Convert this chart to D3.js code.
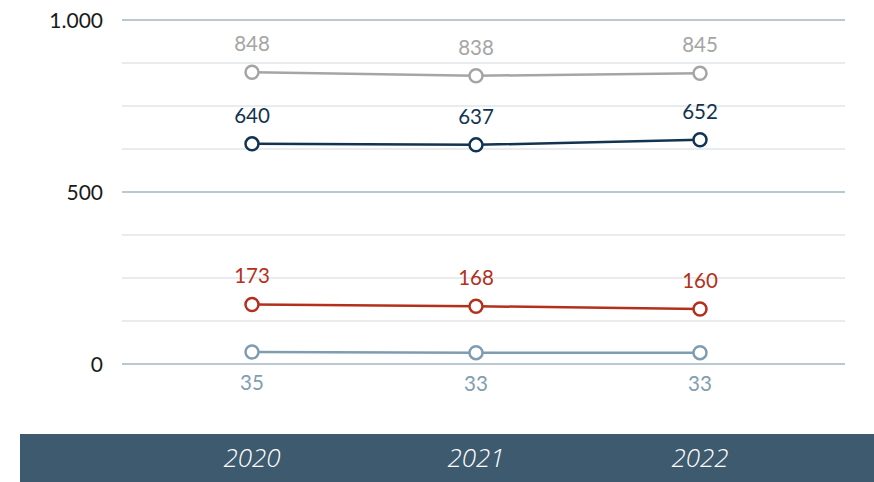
<!DOCTYPE html>
<html>
<head>
<meta charset="utf-8">
<script src="https://cdn.jsdelivr.net/npm/d3@7"></script>
<style>
  html, body { margin: 0; padding: 0; background: #fff; }
  svg { display: block; }
</style>
</head>
<body>
<svg id="chart" width="874" height="482"></svg>
<script>
// Years on the x axis
const years = ["2020", "2021", "2022"];

// One array per series
const seriesGrey = [848, 838, 845];
const seriesNavy = [640, 637, 652];
const seriesRed = [173, 168, 160];
const seriesBlue = [35, 33, 33];

// Y axis ticks
const majorTicks = [0, 500, 1000];
const tickLabels = ["0", "500", "1.000"];
const gridStep = 125;

const series = [
  { values: seriesGrey, color: "#a5a5a5", labelPos: "above" },
  { values: seriesNavy, color: "#123451", labelPos: "above" },
  { values: seriesRed,  color: "#b5301c", labelPos: "above" },
  { values: seriesBlue, color: "#7f9db0", labelPos: "below" }
];

const svg = d3.select("#chart");
const plotLeft = 122, plotRight = 845;
const textFont = "Lato, 'Open Sans', sans-serif";

const x = d3.scalePoint().domain(years).range([252, 700]);
const y = d3.scaleLinear().domain([0, 1000]).range([364, 20]);

// Gridlines: light minor lines every 125, bluish major lines every 500
const gridVals = d3.range(0, 1000 + 1, gridStep);
svg.append("g").selectAll("line")
  .data(gridVals.filter(v => !majorTicks.includes(v)))
  .join("line")
  .attr("x1", plotLeft).attr("x2", plotRight)
  .attr("y1", d => y(d)).attr("y2", d => y(d))
  .attr("stroke", "#d3d9de").attr("stroke-width", 1.2);

svg.append("g").selectAll("line")
  .data(majorTicks)
  .join("line")
  .attr("x1", plotLeft).attr("x2", plotRight)
  .attr("y1", d => y(d)).attr("y2", d => y(d))
  .attr("stroke", "#a3b6c4").attr("stroke-width", 1.3);

// Y tick labels
svg.append("g").selectAll("text")
  .data(majorTicks)
  .join("text")
  .attr("x", 103)
  .attr("y", d => y(d) + 8)
  .attr("text-anchor", "end")
  .attr("font-family", textFont)
  .attr("font-size", 21)
  .attr("fill", "#1a1a1a")
  .text((d, i) => tickLabels[i]);

// Lines, markers and value labels
const line = d3.line()
  .x((d, i) => x(years[i]))
  .y(d => y(d));

series.forEach(s => {
  const g = svg.append("g");
  g.append("path")
    .datum(s.values)
    .attr("d", line)
    .attr("fill", "none")
    .attr("stroke", s.color)
    .attr("stroke-width", 2.5);

  g.selectAll("circle")
    .data(s.values)
    .join("circle")
    .attr("cx", (d, i) => x(years[i]))
    .attr("cy", d => y(d))
    .attr("r", 6.5)
    .attr("fill", "#fff")
    .attr("stroke", s.color)
    .attr("stroke-width", 2.5);

  g.selectAll("text")
    .data(s.values)
    .join("text")
    .attr("x", (d, i) => x(years[i]))
    .attr("y", d => s.labelPos === "above" ? y(d) - 21 : y(d) + 38)
    .attr("text-anchor", "middle")
    .attr("font-family", textFont)
    .attr("font-size", 20.5)
    .attr("fill", s.color)
    .text(d => d);
});

// Category band at the bottom
svg.append("rect")
  .attr("x", 20).attr("y", 434)
  .attr("width", 854).attr("height", 48)
  .attr("fill", "#3d5a6f");

svg.append("g").selectAll("text")
  .data(years)
  .join("text")
  .attr("x", d => x(d))
  .attr("y", 467)
  .attr("text-anchor", "middle")
  .attr("font-family", "'Open Sans', sans-serif")
  .attr("font-style", "italic")
  .attr("font-weight", 300)
  .attr("font-size", 26)
  .attr("fill", "#ffffff")
  .text(d => d);
</script>
</body>
</html>
